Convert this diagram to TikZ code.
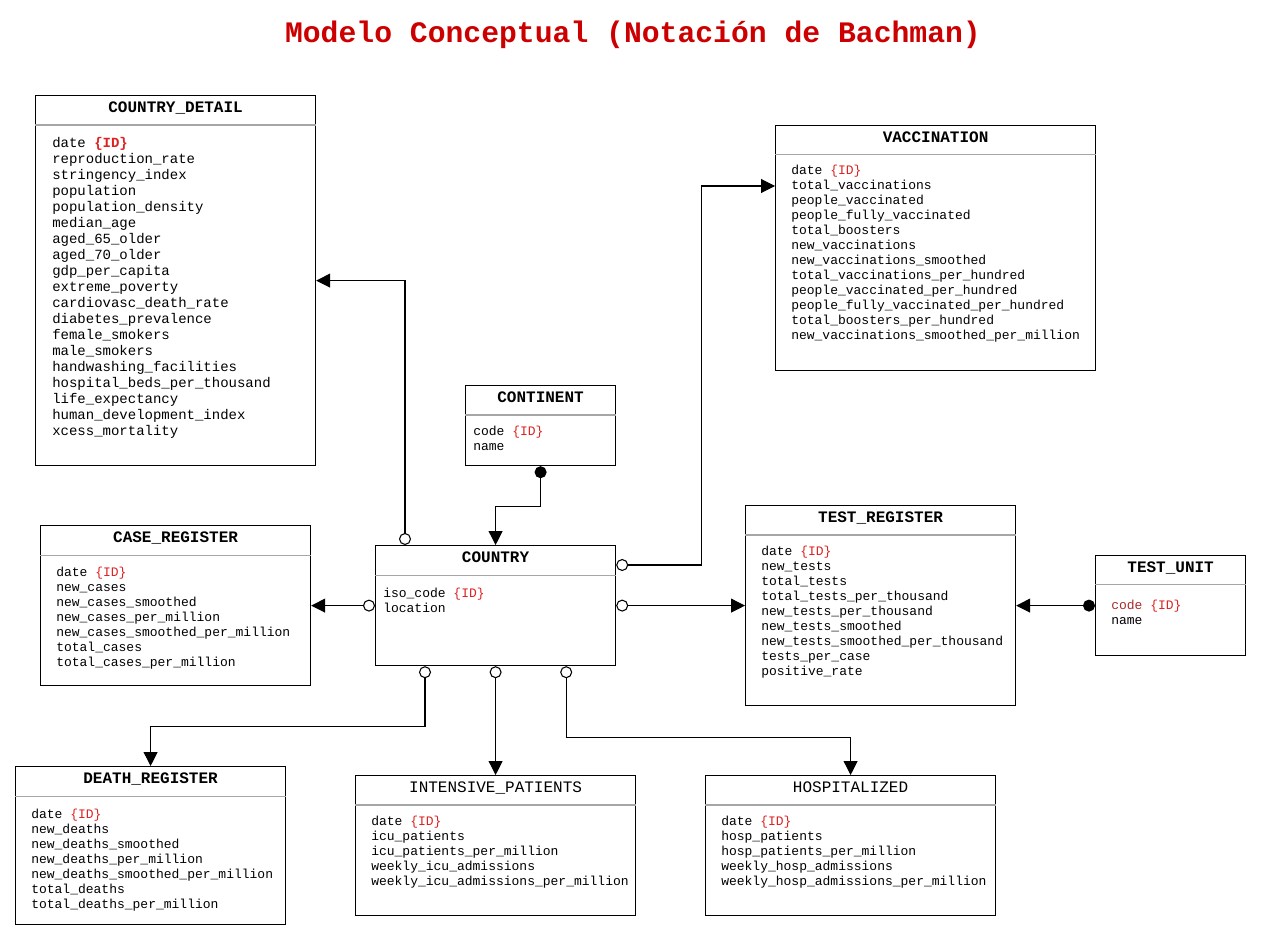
\documentclass[tikz,border=0pt]{standalone}
\usepackage{fontspec}
\setmonofont{Liberation Mono}
\usetikzlibrary{arrows.meta,calc}
\definecolor{titlered}{HTML}{CC0000}
\definecolor{idred}{HTML}{DD2222}
\definecolor{codered}{HTML}{A52A2A}
\newcommand{\pk}{\textcolor{idred}{\{ID\}}}

\begin{document}
\begin{tikzpicture}[x=0.75pt,y=-0.75pt,
	entity/.style={draw,line width=0.9pt,anchor=north west,inner sep=0},
	etitle/.style={font=\ttfamily\bfseries\fontsize{12}{14}\selectfont},
	attrs/.style={anchor=north west,inner sep=0,align=left,font=\ttfamily\fontsize{9.75}{11.25}\selectfont},
	sep/.style={draw=gray!70,line width=0.8pt},
	rel/.style={line width=0.8pt,{Circle[open,length=9pt]}-{Triangle[length=10.5pt,width=10.5pt]}},
	dep/.style={line width=0.8pt,{Circle[length=9pt]}-{Triangle[length=10.5pt,width=10.5pt]}}]
\useasboundingbox (0,0) rectangle (1261,941);
\node[font=\ttfamily\bfseries\fontsize{22.3}{26}\selectfont,text=titlered] (title) at (633,35) {Modelo Conceptual (Notación de Bachman)};

\node[entity,minimum width=210pt,minimum height=277.5pt] (cdetail) at (35,95) {};
\node[etitle] (cdetail-t) at ([yshift=-9.75pt]cdetail.north) {COUNTRY\_DETAIL};
\draw[sep] ([yshift=-22.5pt]cdetail.north west) -- ([yshift=-22.5pt]cdetail.north east);
\node[attrs,font=\ttfamily\fontsize{10.5}{12}\selectfont] (cdetail-a) at (52,137) {date \textcolor{idred}{\bfseries\{ID\}}\\
reproduction\_rate\\ stringency\_index\\ population\\ population\_density\\ median\_age\\
aged\_65\_older\\ aged\_70\_older\\ gdp\_per\_capita\\ extreme\_poverty\\ cardiovasc\_death\_rate\\
diabetes\_prevalence\\ female\_smokers\\ male\_smokers\\ handwashing\_facilities\\
hospital\_beds\_per\_thousand\\ life\_expectancy\\ human\_development\_index\\ xcess\_mortality};

\node[entity,minimum width=240pt,minimum height=183.75pt] (vacc) at (775,125) {};
\node[etitle] (vacc-t) at ([yshift=-9pt]vacc.north) {VACCINATION};
\draw[sep] ([yshift=-22pt]vacc.north west) -- ([yshift=-22pt]vacc.north east);
\node[attrs] (vacc-a) at (791,165) {date \pk\\ total\_vaccinations\\ people\_vaccinated\\
people\_fully\_vaccinated\\ total\_boosters\\ new\_vaccinations\\ new\_vaccinations\_smoothed\\
total\_vaccinations\_per\_hundred\\ people\_vaccinated\_per\_hundred\\
people\_fully\_vaccinated\_per\_hundred\\ total\_boosters\_per\_hundred\\
new\_vaccinations\_smoothed\_per\_million};

\node[entity,minimum width=112.5pt,minimum height=60pt] (continent) at (465,385) {};
\node[etitle] (continent-t) at ([yshift=-9pt]continent.north) {CONTINENT};
\draw[sep] ([yshift=-22.5pt]continent.north west) -- ([yshift=-22.5pt]continent.north east);
\node[attrs] (continent-a) at (473,426) {code \pk\\ name};

\node[entity,minimum width=202.5pt,minimum height=120pt] (caseg) at (40,525) {};
\node[etitle] (caseg-t) at ([yshift=-10pt]caseg.north) {CASE\_REGISTER};
\draw[sep] ([yshift=-23pt]caseg.north west) -- ([yshift=-23pt]caseg.north east);
\node[attrs] (caseg-a) at (56,567) {date \pk\\ new\_cases\\ new\_cases\_smoothed\\
new\_cases\_per\_million\\ new\_cases\_smoothed\_per\_million\\ total\_cases\\ total\_cases\_per\_million};

\node[entity,minimum width=180pt,minimum height=90pt] (country) at (375,545) {};
\node[etitle] (country-t) at ([yshift=-9.5pt]country.north) {COUNTRY};
\draw[sep] ([yshift=-23pt]country.north west) -- ([yshift=-23pt]country.north east);
\node[attrs] (country-a) at (383,588) {iso\_code \pk\\ location};

\node[entity,minimum width=202.5pt,minimum height=150pt] (testreg) at (745,505) {};
\node[etitle] (testreg-t) at ([yshift=-9.5pt]testreg.north) {TEST\_REGISTER};
\draw[sep] ([yshift=-22.5pt]testreg.north west) -- ([yshift=-22.5pt]testreg.north east);
\node[attrs] (testreg-a) at (761,546) {date \pk\\ new\_tests\\ total\_tests\\
total\_tests\_per\_thousand\\ new\_tests\_per\_thousand\\ new\_tests\_smoothed\\
new\_tests\_smoothed\_per\_thousand\\ tests\_per\_case\\ positive\_rate};

\node[entity,minimum width=112.5pt,minimum height=75pt] (testunit) at (1095,555) {};
\node[etitle] (testunit-t) at ([yshift=-9.5pt]testunit.north) {TEST\_UNIT};
\draw[sep] ([yshift=-22pt]testunit.north west) -- ([yshift=-22pt]testunit.north east);
\node[attrs] (testunit-a) at (1111,600) {\textcolor{codered}{code} \pk\\ name};

\node[entity,minimum width=202.5pt,minimum height=118.5pt] (death) at (15,766) {};
\node[etitle] (death-t) at ([yshift=-9.5pt]death.north) {DEATH\_REGISTER};
\draw[sep] ([yshift=-23pt]death.north west) -- ([yshift=-23pt]death.north east);
\node[attrs] (death-a) at (31,809) {date \pk\\ new\_deaths\\ new\_deaths\_smoothed\\
new\_deaths\_per\_million\\ new\_deaths\_smoothed\_per\_million\\ total\_deaths\\ total\_deaths\_per\_million};

\node[entity,minimum width=210pt,minimum height=105pt] (icu) at (355,775) {};
\node[etitle,font=\ttfamily\fontsize{12}{14}\selectfont] (icu-t) at ([yshift=-9.5pt]icu.north) {INTENSIVE\_PATIENTS};
\draw[sep] ([yshift=-22.5pt]icu.north west) -- ([yshift=-22.5pt]icu.north east);
\node[attrs] (icu-a) at (371,816) {date \pk\\ icu\_patients\\ icu\_patients\_per\_million\\
weekly\_icu\_admissions\\ weekly\_icu\_admissions\_per\_million};

\node[entity,minimum width=217.5pt,minimum height=105pt] (hosp) at (705,775) {};
\node[etitle,font=\ttfamily\fontsize{12}{14}\selectfont] (hosp-t) at ([yshift=-9.5pt]hosp.north) {HOSPITALIZED};
\draw[sep] ([yshift=-22.5pt]hosp.north west) -- ([yshift=-22.5pt]hosp.north east);
\node[attrs] (hosp-a) at (721,816) {date \pk\\ hosp\_patients\\ hosp\_patients\_per\_million\\
weekly\_hosp\_admissions\\ weekly\_hosp\_admissions\_per\_million};

\draw[rel] ($(country.north west)+(30,0)$) |- (cdetail.east);
\draw[rel] ($(country.north east)+(0,20)$) -- ++(85,0) |- ($(vacc.north west)+(0,61)$);
\draw[dep] (continent.south) -- ++(0,40) -| (country.north);
\draw[rel] (country.west) -- (country.west -| caseg.east);
\draw[rel] (country.east) -- (country.east -| testreg.west);
\draw[dep] (testunit.west) -- (testunit.west -| testreg.east);
\draw[rel] ($(country.south west)+(50,0)$) -- ++(0,60) -| (death.north);
\draw[rel] (country.south) -- (icu.north);
\draw[rel] ($(country.south east)+(-50,0)$) -- ++(0,71) -| (hosp.north);
\end{tikzpicture}
\end{document}
